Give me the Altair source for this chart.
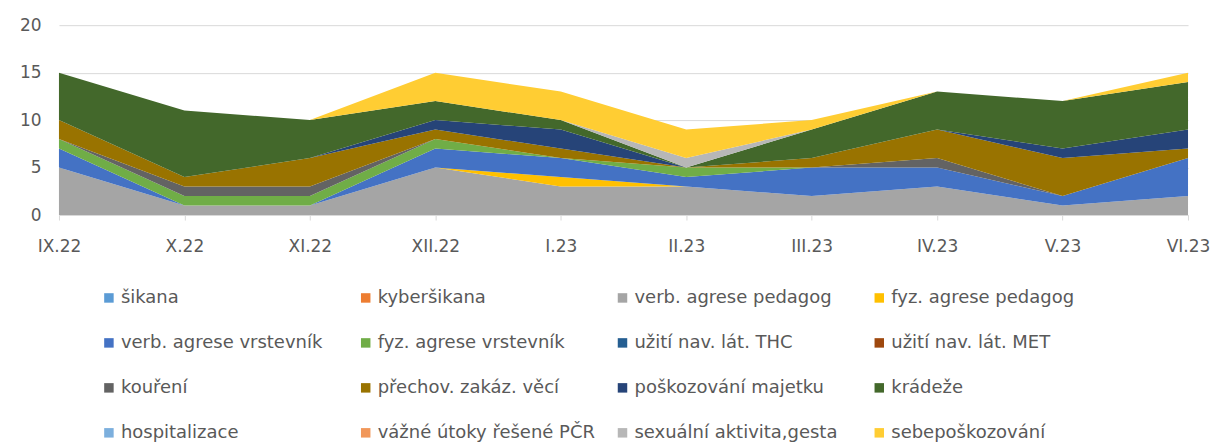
import altair as alt
import pandas as pd

months = ["IX.22", "X.22", "XI.22", "XII.22", "I.23", "II.23", "III.23", "IV.23", "V.23", "VI.23"]

series = ["šikana", "kyberšikana", "verb. agrese pedagog", "fyz. agrese pedagog",
          "verb. agrese vrstevník", "fyz. agrese vrstevník", "užití nav. lát. THC", "užití nav. lát. MET",
          "kouření", "přechov. zakáz. věcí", "poškozování majetku", "krádeže",
          "hospitalizace", "vážné útoky řešené PČR", "sexuální aktivita,gesta", "sebepoškozování"]

colors = ["#5B9BD5", "#ED7D31", "#A5A5A5", "#FFC000",
          "#4472C4", "#70AD47", "#255E91", "#9E480E",
          "#636363", "#997300", "#264478", "#43682B",
          "#7CAFDD", "#F1975A", "#B7B7B7", "#FFCD33"]

sikana          = [0, 0, 0, 0, 0, 0, 0, 0, 0, 0]
kybersikana     = [0, 0, 0, 0, 0, 0, 0, 0, 0, 0]
verb_pedagog    = [5, 1, 1, 5, 3, 3, 2, 3, 1, 2]
fyz_pedagog     = [0, 0, 0, 0, 1, 0, 0, 0, 0, 0]
verb_vrstevnik  = [2, 0, 0, 2, 2, 1, 3, 2, 1, 4]
fyz_vrstevnik   = [1, 1, 1, 1, 0, 1, 0, 0, 0, 0]
thc             = [0, 0, 0, 0, 0, 0, 0, 0, 0, 0]
met             = [0, 0, 0, 0, 0, 0, 0, 0, 0, 0]
koureni         = [0, 1, 1, 0, 0, 0, 0, 1, 0, 0]
prechov         = [2, 1, 3, 1, 1, 0, 1, 3, 4, 1]
poskozovani     = [0, 0, 0, 1, 2, 0, 0, 0, 1, 2]
kradeze         = [5, 7, 4, 2, 1, 0, 3, 4, 5, 5]
hospitalizace   = [0, 0, 0, 0, 0, 0, 0, 0, 0, 0]
vazne_utoky     = [0, 0, 0, 0, 0, 0, 0, 0, 0, 0]
sexualni        = [0, 0, 0, 0, 0, 1, 0, 0, 0, 0]
sebeposkozovani = [0, 0, 0, 3, 3, 3, 1, 0, 0, 1]

values = [sikana, kybersikana, verb_pedagog, fyz_pedagog, verb_vrstevnik, fyz_vrstevnik,
          thc, met, koureni, prechov, poskozovani, kradeze,
          hospitalizace, vazne_utoky, sexualni, sebeposkozovani]

rows = []
for i, (name, vals) in enumerate(zip(series, values)):
    for m, v in zip(months, vals):
        rows.append({"month": m, "series": name, "value": v, "idx": i})
df = pd.DataFrame(rows)

FONT = "DejaVu Sans"
GREY = "#595959"

chart = alt.Chart(df).mark_area(opacity=1, interpolate="linear").encode(
    x=alt.X("month:N", sort=months, title=None,
            scale=alt.Scale(type="point", padding=0),
            axis=alt.Axis(labelAngle=0, tickSize=5, tickColor="#D9D9D9", domainColor="#D9D9D9",
                          labelColor=GREY, labelFontSize=17, labelFont=FONT, labelPadding=19,
                          grid=False)),
    y=alt.Y("value:Q", stack="zero", title=None,
            scale=alt.Scale(domain=[0, 20], nice=False),
            axis=alt.Axis(values=[0, 5, 10, 15, 20], domain=False, ticks=False,
                          gridColor="#D9D9D9", labelColor=GREY, labelFontSize=17,
                          labelFont=FONT, labelPadding=18)),
    color=alt.Color("series:N", sort=series,
                    scale=alt.Scale(domain=series, range=colors),
                    legend=alt.Legend(title=None, orient="none", legendX=41, legendY=264,
                                      columns=4, direction="horizontal", gridAlign="all",
                                      columnPadding=18, rowPadding=27,
                                      symbolType="square", symbolSize=90, symbolStrokeWidth=0,
                                      labelFontSize=18, labelFont=FONT, labelColor=GREY,
                                      labelLimit=400, labelOffset=3)),
    order=alt.Order("idx:Q", sort="ascending"),
).properties(
    width=1130, height=190,
    autosize=alt.AutoSizeParams(type="none"),
    padding={"left": 51, "top": 17, "right": 30, "bottom": 228},
).configure_view(stroke=None)

chart.save("out.html", embed_options={"renderer": "svg", "actions": False})
